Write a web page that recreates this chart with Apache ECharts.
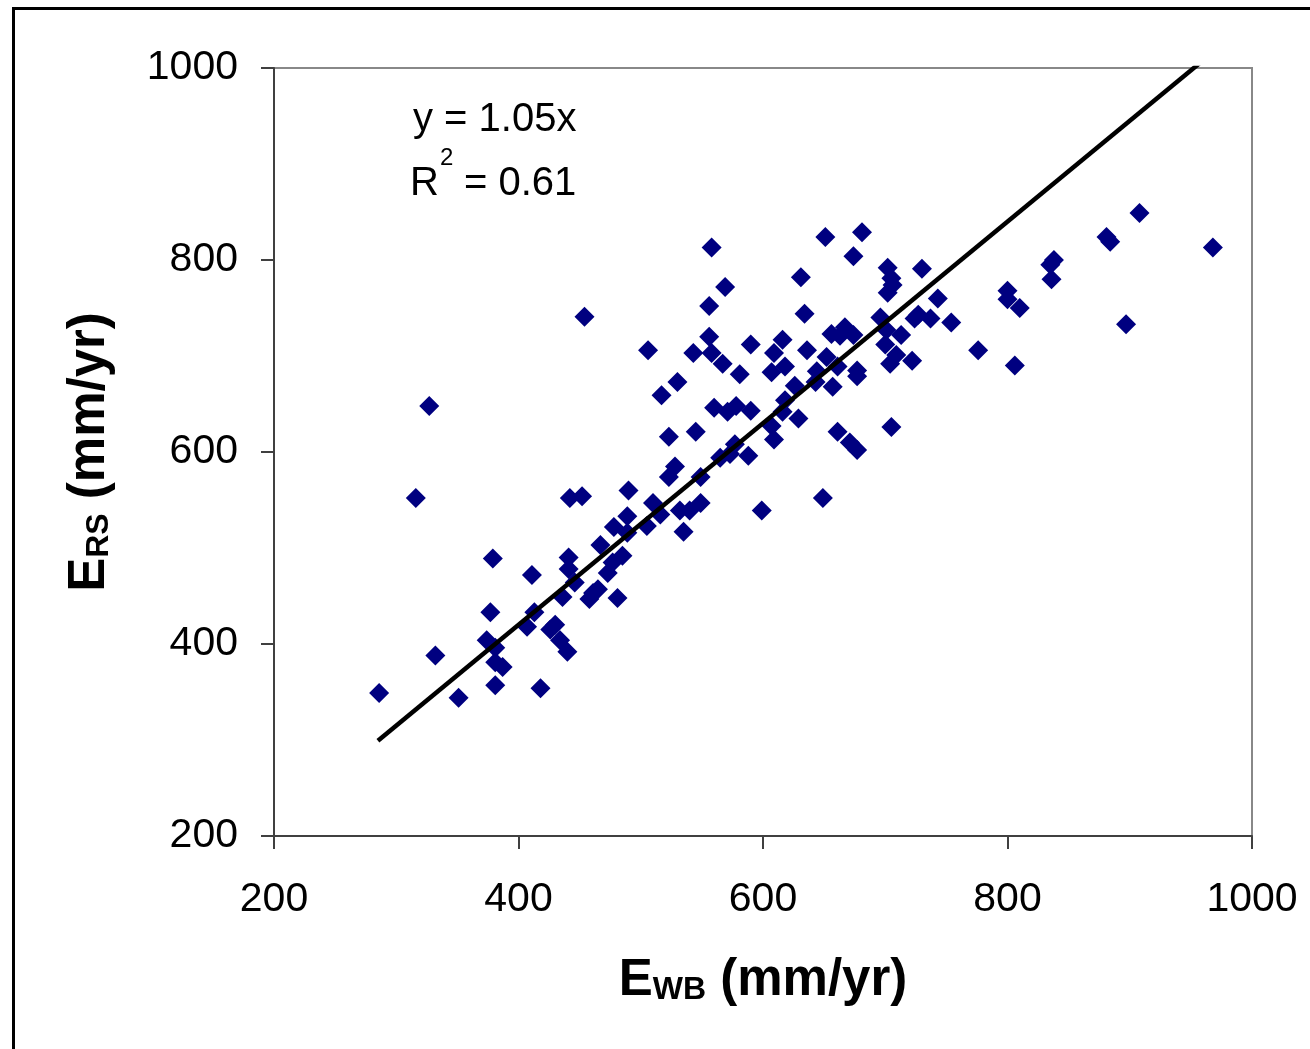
<!DOCTYPE html>
<html>
<head>
<meta charset="utf-8">
<title>ERS vs EWB</title>
<script src="https://cdn.jsdelivr.net/npm/echarts@6/dist/echarts.min.js"></script>
<style>
  html, body { margin: 0; padding: 0; background: #fff; }
  #main { width: 1310px; height: 1049px; }
</style>
</head>
<body>
<div id="main"></div>
<script>
// E_WB (mm/yr)
const ewb = [
  286, 316, 327, 332, 351, 374, 377, 379, 381, 381, 387, 381, 407, 413, 411, 418,
  430, 426, 434, 440, 441, 441, 442, 452, 436, 446, 461, 465, 458, 467, 473, 477,
  485, 481, 478, 489, 489, 490, 505, 510, 516, 532, 540, 535, 549, 517, 530, 506,
  454, 523, 545, 528, 523, 549, 543, 558, 569, 556, 556, 558, 567, 590, 616, 609,
  618, 607, 581, 560, 571, 578, 590, 577, 573, 565, 588, 599, 607, 609, 618, 616,
  626, 629, 631, 634, 636, 643, 644, 652, 661, 657, 649, 651, 656, 663, 667, 674,
  661, 671, 677, 674, 681, 677, 677, 696, 701, 700, 702, 705, 706, 702, 709, 704,
  713, 722, 705, 727, 724, 737, 730, 743, 754, 776, 800, 800, 810, 806, 835, 838,
  836, 881, 884, 908, 968, 897
];
// E_RS (mm/yr)
const ers = [
  349, 552, 648, 388, 344, 404, 433, 489, 396, 381, 376, 357, 418, 433, 472, 354,
  420, 415, 404, 392, 490, 478, 552, 554, 449, 464, 453, 457, 447, 503, 474, 485,
  492, 448, 522, 533, 516, 560, 523, 547, 535, 539, 539, 517, 547, 659, 673, 706,
  741, 616, 621, 585, 574, 574, 703, 813, 772, 752, 720, 703, 692, 712, 717, 703,
  689, 683, 681, 646, 642, 648, 643, 608, 598, 594, 596, 539, 627, 613, 654, 642,
  669, 635, 782, 744, 706, 673, 684, 699, 689, 668, 552, 824, 723, 721, 730, 722,
  621, 610, 602, 804, 829, 685, 679, 740, 727, 712, 792, 781, 774, 766, 701, 692,
  722, 695, 626, 743, 739, 739, 791, 760, 735, 706, 768, 759, 750, 690, 795, 800,
  780, 824, 819, 849, 813, 733
];
// fitted line y = 1.05x over the data range
const slope = 1.05;
const fitX = [285, 968];
const axisTicks = [200, 400, 600, 800, 1000];

const FONT = '"Liberation Sans", Arial, sans-serif';
const points = ewb.map((x, i) => [x, ers[i]]);
const fitLine = fitX.map(x => [x, +(slope * x).toFixed(2)]);

const titleRich = {
  e: { fontSize: 51, fontWeight: 'bold', fontFamily: FONT, color: '#000', lineHeight: 56, verticalAlign: 'bottom' },
  s: { fontSize: 32, fontWeight: 'bold', fontFamily: FONT, color: '#000', lineHeight: 43, verticalAlign: 'bottom' },
};

const axisBase = {
  type: 'value',
  min: axisTicks[0],
  max: axisTicks[axisTicks.length - 1],
  interval: axisTicks[1] - axisTicks[0],
  axisLine: { show: true, onZero: false, lineStyle: { color: '#404040', width: 2 } },
  axisTick: { show: true, length: 13, lineStyle: { color: '#404040', width: 2 } },
  splitLine: { show: false },
  nameLocation: 'middle',
};

const chart = echarts.init(document.getElementById('main'));
chart.setOption({
  animation: false,
  backgroundColor: '#fff',
  grid: {
    left: 274, right: 58, top: 68, bottom: 213,
    show: true, borderColor: '#888888', borderWidth: 2,
  },
  xAxis: Object.assign({}, axisBase, {
    axisLabel: { margin: 43, fontSize: 41, fontFamily: FONT, color: '#000', formatter: v => String(v) },
    name: '{e|E}{s|WB}{e| (mm/yr)}',
    nameGap: 114,
    nameTextStyle: { rich: titleRich },
  }),
  yAxis: Object.assign({}, axisBase, {
    axisLabel: { margin: 36, fontSize: 41, fontFamily: FONT, color: '#000', padding: [6, 0, 0, 0], formatter: v => String(v) },
    name: '{e|E}{s|RS}{e| (mm/yr)}',
    nameGap: 159,
    nameTextStyle: { rich: titleRich },
  }),
  graphic: [
    {
      type: 'rect', silent: true,
      shape: { x: 13.5, y: 8.5, width: 1400, height: 1100 },
      style: { fill: 'none', stroke: '#000', lineWidth: 3 },
    },
    {
      type: 'text', silent: true,
      style: { text: 'y = 1.05x', x: 413, y: 120, font: '40px ' + FONT, fill: '#000',
        verticalAlign: 'middle', textVerticalAlign: 'middle' },
    },
    {
      type: 'text', silent: true,
      style: { text: 'R', x: 410, y: 184, font: '40px ' + FONT, fill: '#000',
        verticalAlign: 'middle', textVerticalAlign: 'middle' },
    },
    {
      type: 'text', silent: true,
      style: { text: '2', x: 440, y: 158, font: '24px ' + FONT, fill: '#000',
        verticalAlign: 'middle', textVerticalAlign: 'middle' },
    },
    {
      type: 'text', silent: true,
      style: { text: '= 0.61', x: 464, y: 184, font: '40px ' + FONT, fill: '#000',
        verticalAlign: 'middle', textVerticalAlign: 'middle' },
    },
  ],
  series: [
    {
      type: 'scatter',
      data: points,
      symbol: 'diamond',
      symbolSize: 20,
      itemStyle: { color: '#000080', opacity: 1 },
      silent: true,
      z: 2,
    },
    {
      type: 'line',
      data: fitLine,
      showSymbol: false,
      symbol: 'none',
      clip: true,
      lineStyle: { color: '#000', width: 4.5 },
      silent: true,
      z: 3,
    },
  ],
});
</script>
</body>
</html>
